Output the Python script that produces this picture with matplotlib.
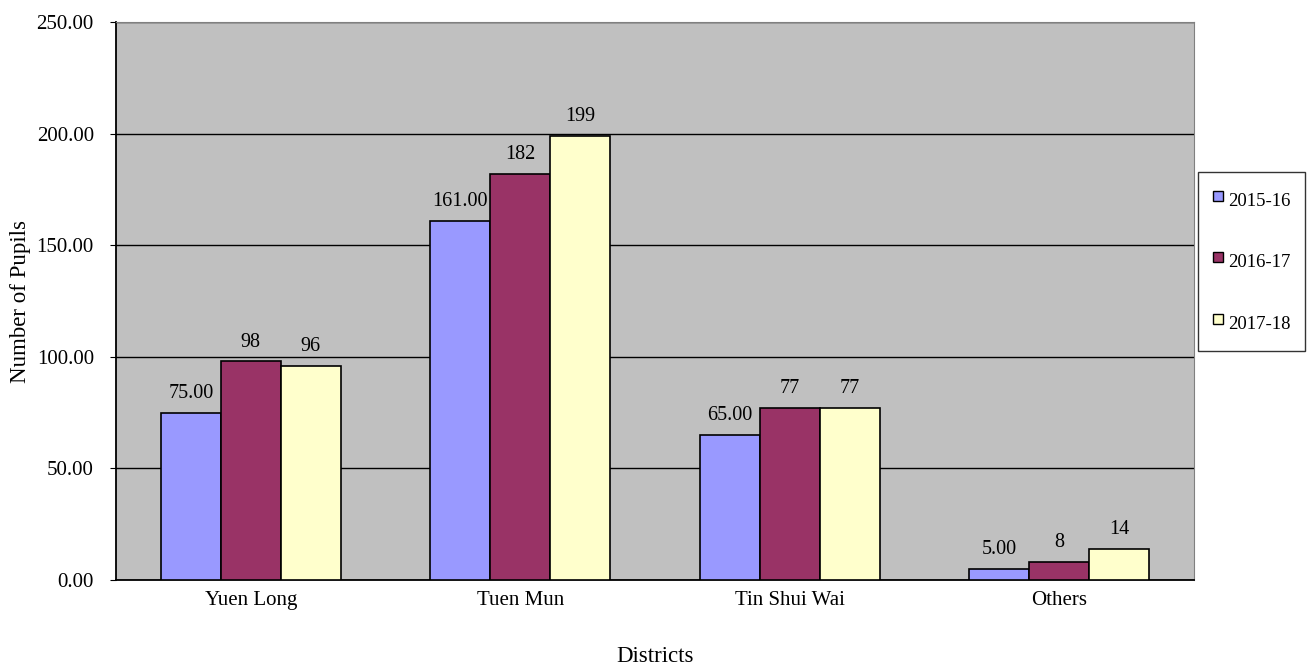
import numpy as np
import matplotlib.pyplot as plt

districts = ['Yuen Long', 'Tuen Mun', 'Tin Shui Wai', 'Others']
years = ['2015-16', '2016-17', '2017-18']
pupils_2015 = [75, 161, 65, 5]
pupils_2016 = [98, 182, 77, 8]
pupils_2017 = [96, 199, 77, 14]
colors = ['#9999FF', '#993366', '#FFFFCC']

plt.rcParams['font.family'] = ['Liberation Serif', 'DejaVu Serif']
plt.rcParams['font.size'] = 15

fig = plt.figure(figsize=(13.08, 6.68), dpi=100)
ax = fig.add_axes([0.0887, 0.1317, 0.8241, 0.8353])
ax.set_facecolor('#C0C0C0')

x = np.arange(len(districts))
w = 0.2226
series = [pupils_2015, pupils_2016, pupils_2017]
for i, (vals, c, yr) in enumerate(zip(series, colors, years)):
    bars = ax.bar(x + (i - 1) * w, vals, w, color=c, edgecolor='black',
                  linewidth=1.2, label=yr, zorder=3)
    fmt = '%.2f' if i == 0 else '%d'
    ax.bar_label(bars, fmt=fmt, padding=7, fontsize=14.5)

ax.set_xlim(-0.5, 3.5)
ax.set_ylim(0, 250)
ax.set_yticks(np.arange(0, 251, 50))
ax.set_yticklabels(['%.2f' % v for v in np.arange(0, 251, 50)])
ax.yaxis.grid(True, color='black', linewidth=1, zorder=0)
ax.set_axisbelow(True)
ax.set_xticks(x)
ax.set_xticklabels(districts)
ax.tick_params(axis='x', length=0, pad=8)
ax.tick_params(axis='y', length=4, pad=12)
for s in ['top', 'right']:
    ax.spines[s].set_color('#808080')
for s in ['left', 'bottom']:
    ax.spines[s].set_color('black')
    ax.spines[s].set_linewidth(1.3)

ax.set_xlabel('Districts', fontsize=16.5, labelpad=26)
ax.set_ylabel('Number of Pupils', fontsize=16.5, labelpad=4)

handles = [plt.Line2D([], [], marker='s', linestyle='none', markersize=7,
                      markerfacecolor=c, markeredgecolor='black')
           for c in colors]
leg = fig.legend(handles, years, loc='upper left', fontsize=13.5,
                 bbox_to_anchor=(1198 / 1308, 1 - 172 / 668), frameon=True,
                 fancybox=False, edgecolor='black', handlelength=0.6,
                 handleheight=1.9, handletextpad=0.25, labelspacing=1.8,
                 borderpad=0.75, borderaxespad=0)
leg.get_frame().set_linewidth(1)

fig.savefig('out.png', dpi=100)
